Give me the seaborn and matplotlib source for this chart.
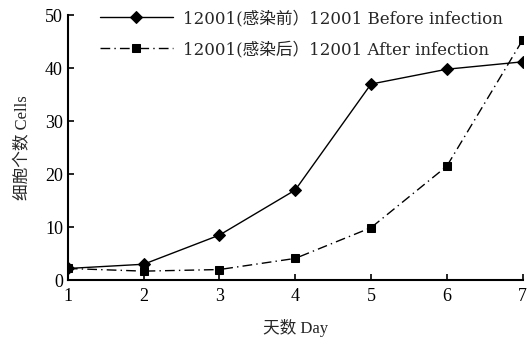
import numpy as np
import pandas as pd
import seaborn as sns
import matplotlib
matplotlib.use("Agg")
import matplotlib.pyplot as plt

days = [1, 2, 3, 4, 5, 6, 7]
before = [2.2, 3.0, 8.5, 17.0, 37.0, 39.8, 41.2]
after = [2.2, 1.7, 2.0, 4.1, 9.9, 21.5, 45.3]
labels = ["12001(感染前）12001 Before infection", "12001(感染后）12001 After infection"]

sns.set_theme(style="ticks")
plt.rcParams["font.family"] = ["Liberation Serif", "Noto Sans CJK SC", "DejaVu Sans"]

df = pd.DataFrame({
    "day": days * 2,
    "cells": before + after,
    "group": [labels[0]] * len(days) + [labels[1]] * len(days),
})

fig = plt.figure(figsize=(5.3, 3.45), dpi=100)
ax = fig.add_axes([0.128, 0.188, 0.858, 0.768])

sns.lineplot(data=df, x="day", y="cells", hue="group", style="group",
             palette=["black", "black"], dashes=[(None, None), (7, 3, 1, 3)],
             markers=["D", "s"], markersize=6, linewidth=1.0,
             markeredgecolor="black", ax=ax)

ax.set_xlim(1, 7)
ax.set_ylim(0, 50)
ax.set_xticks(days)
ax.set_yticks([0, 10, 20, 30, 40, 50])
ax.tick_params(direction="in", length=4, width=1.2, labelsize=13, colors="black")
ax.tick_params(axis="x", pad=6)
for s in ["top", "right"]:
    ax.spines[s].set_visible(False)
for s in ["left", "bottom"]:
    ax.spines[s].set_linewidth(1.5)
    ax.spines[s].set_color("black")

ax.set_xlabel("天数 Day", fontsize=12, labelpad=10)
ax.set_ylabel("细胞个数 Cells", fontsize=12, labelpad=10)

leg = ax.legend(loc="upper left", bbox_to_anchor=(0.055, 1.045), frameon=False,
                handlelength=4.4, handletextpad=0.6,
                labelspacing=0.85, borderaxespad=0,
                prop={"family": ["DejaVu Serif", "Noto Sans CJK SC"], "size": 12})

fig.savefig("out.png", dpi=100)
